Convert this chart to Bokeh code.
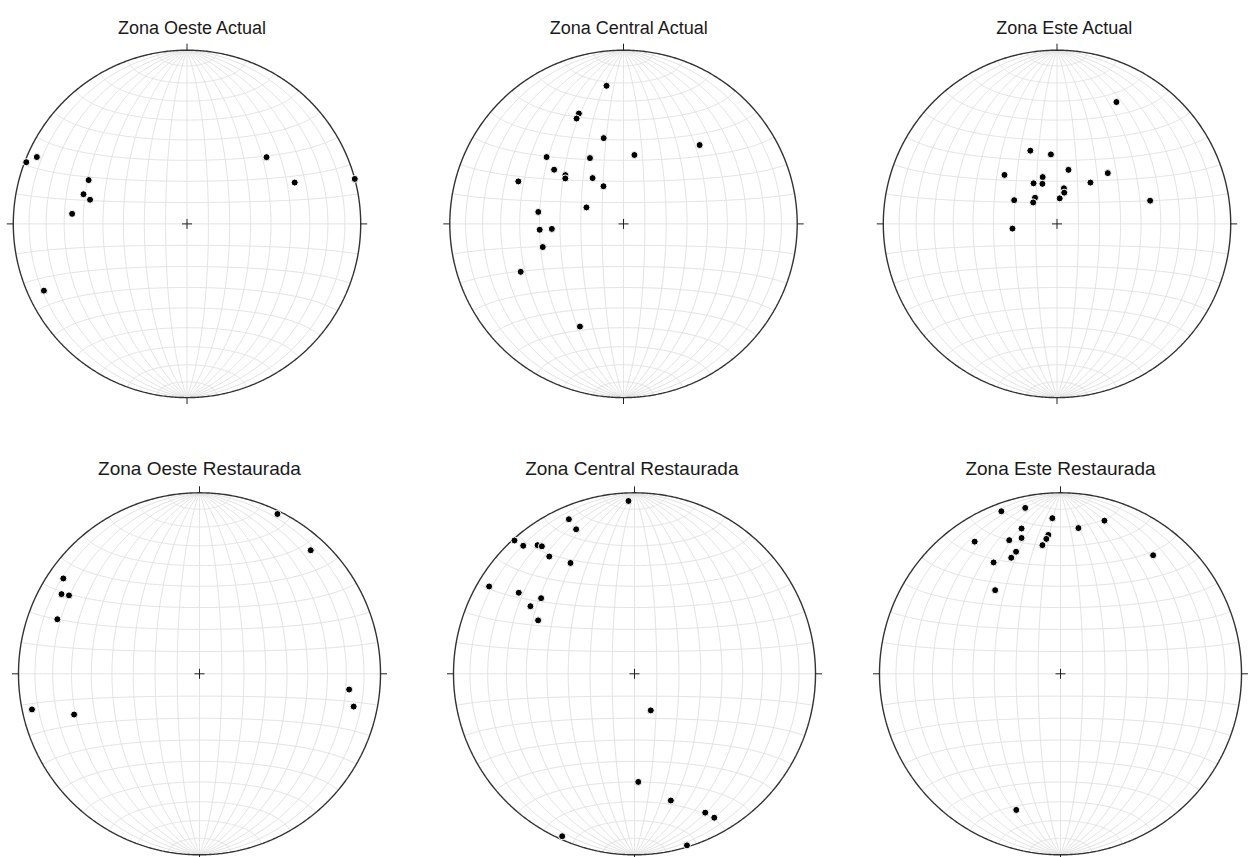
import numpy as np
from bokeh.plotting import figure
from bokeh.layouts import row, column
from bokeh.models import Range1d, Label
from bokeh.embed import file_html
from bokeh.resources import INLINE

# Poles to bedding, lower hemisphere: trend / plunge in degrees
oeste_actual_trend = [291, 294, 294, 286, 284, 275, 245, 50, 69, 75]
oeste_actual_plunge = [1, 6, 38, 38, 42, 34, 10, 40, 34, 0]

central_actual_trend = [353, 338, 336, 347, 44, 9, 311, 333, 308, 310, 308,
                        326, 292, 332, 294, 278, 266, 266, 254, 245, 203]
central_actual_plunge = [21, 32, 34, 48, 37, 57, 41, 55, 48, 54, 55,
                         64, 35, 70, 71, 49, 50, 56, 50, 35, 36]

este_actual_trend = [26, 340, 355, 12, 313, 45, 343, 330, 340, 39, 11, 13,
                     320, 299, 312, 6, 76, 264]
este_actual_plunge = [23, 53, 57, 64, 56, 56, 67, 68, 70, 65, 73, 75,
                      74, 67, 75, 78, 44, 69]

oeste_rest_trend = [26, 42, 305, 300, 301, 291, 96, 102, 258, 252]
oeste_rest_plunge = [2, 9, 9, 13, 17, 17, 18, 14, 6, 28]

central_rest_trend = [358, 337, 338, 318, 319, 323, 324, 324, 330, 301, 305,
                      309, 303, 299, 156, 178, 164, 153, 151, 204, 163]
central_rest_plunge = [5, 8, 15, 1, 7, 12, 14, 21, 30, 7, 23,
                       34, 32, 39, 72, 40, 28, 15, 10, 2, 1]

este_rest_trend = [340, 348, 357, 16, 7, 345, 355, 354, 344, 339, 327, 352,
                   340, 337, 329, 38, 322, 198]
este_rest_plunge = [5, 7, 15, 13, 20, 18, 24, 26, 23, 22, 14, 29,
                    29, 31, 29, 18, 41, 22]

titles_top = ["Zona Oeste Actual", "Zona Central Actual", "Zona Este Actual"]
titles_bottom = ["Zona Oeste Restaurada", "Zona Central Restaurada", "Zona Este Restaurada"]


def project(trend_deg, plunge_deg):
    """Equal-area (Schmidt) projection, lower hemisphere, unit primitive."""
    t = np.radians(np.asarray(trend_deg, dtype=float))
    p = np.radians(np.asarray(plunge_deg, dtype=float))
    r = np.sqrt(1.0 - np.sin(p))
    return r * np.sin(t), r * np.cos(t)


def _proj_vec(x, y, z):
    f = 1.0 / np.sqrt(1.0 + z)
    return x * f, y * f


def net_lines(step=10):
    """Great and small circles of a Schmidt net with N-S axis."""
    xs, ys = [], []
    t = np.linspace(0, np.pi, 241)
    for a in range(step, 180, step):
        ar = np.radians(a)
        X, Y = _proj_vec(np.sin(t) * np.cos(ar), np.cos(t), np.sin(t) * np.sin(ar))
        xs.append(X.tolist())
        ys.append(Y.tolist())
    for b in range(step, 180, step):
        br = np.radians(b)
        X, Y = _proj_vec(np.sin(br) * np.cos(t), np.full_like(t, np.cos(br)),
                         np.sin(br) * np.sin(t))
        xs.append(X.tolist())
        ys.append(Y.tolist())
    return xs, ys


GRID_XS, GRID_YS = net_lines()


def stereonet(title, trend, plunge, width, height, cx, cy, scale,
              title_dx, title_base, title_size):
    p = figure(width=width, height=height,
               x_range=Range1d(-cx / scale, (width - cx) / scale),
               y_range=Range1d(-(height - cy) / scale, cy / scale),
               x_axis_type=None, y_axis_type=None,
               toolbar_location=None, output_backend="svg",
               min_border=0, outline_line_color=None,
               background_fill_color="white", border_fill_color="white")
    p.multi_line(GRID_XS, GRID_YS, line_color="#e2e2e2", line_width=1)

    ang = np.linspace(0, 2 * np.pi, 721)
    p.line(np.cos(ang), np.sin(ang), line_color="#333333", line_width=1.4)

    tk = 6.5 / scale
    p.segment(x0=[0, 1, 0, -1], y0=[1, 0, -1, 0],
              x1=[0, 1 + tk, 0, -1 - tk], y1=[1 + tk, 0, -1 - tk, 0],
              line_color="#222222", line_width=1)
    c = 5 / scale
    p.segment(x0=[-c, 0], y0=[0, -c], x1=[c, 0], y1=[0, c],
              line_color="#222222", line_width=1)

    x, y = project(trend, plunge)
    p.scatter(x, y, size=7, marker="circle", fill_color="black",
              line_color="white", line_width=1)

    p.add_layout(Label(x=title_dx / scale, y=(cy - title_base) / scale,
                       text=title, text_align="center",
                       text_baseline="alphabetic",
                       text_font="Liberation Sans",
                       text_font_size=title_size, text_color="#1a1a1a"))
    return p


TOP_H, BOT_H = 440, 417
S_TOP, S_BOT = 173.7, 181.0

top = row(
    stereonet(titles_top[0], oeste_actual_trend, oeste_actual_plunge,
              405, TOP_H, 186.5, 223.4, S_TOP, 5.5, 27.3, "18px"),
    stereonet(titles_top[1], central_actual_trend, central_actual_plunge,
              435, TOP_H, 218.0, 223.4, S_TOP, 5.8, 27.3, "18px"),
    stereonet(titles_top[2], este_actual_trend, este_actual_plunge,
              408, TOP_H, 216.5, 223.4, S_TOP, 7.8, 27.6, "18px"),
    spacing=0,
)
bottom = row(
    stereonet(titles_bottom[0], oeste_rest_trend, oeste_rest_plunge,
              416, BOT_H, 199.0, 233.3, S_BOT, 0.0, 27.5, "19px"),
    stereonet(titles_bottom[1], central_rest_trend, central_rest_plunge,
              431, BOT_H, 218.0, 233.3, S_BOT, -2.7, 27.5, "19px"),
    stereonet(titles_bottom[2], este_rest_trend, este_rest_plunge,
              401, BOT_H, 213.0, 233.3, S_BOT, 0.0, 28.0, "19px"),
    spacing=0,
)
layout = column(top, bottom, spacing=0)

open("out.html", "w").write(file_html(layout, INLINE))
